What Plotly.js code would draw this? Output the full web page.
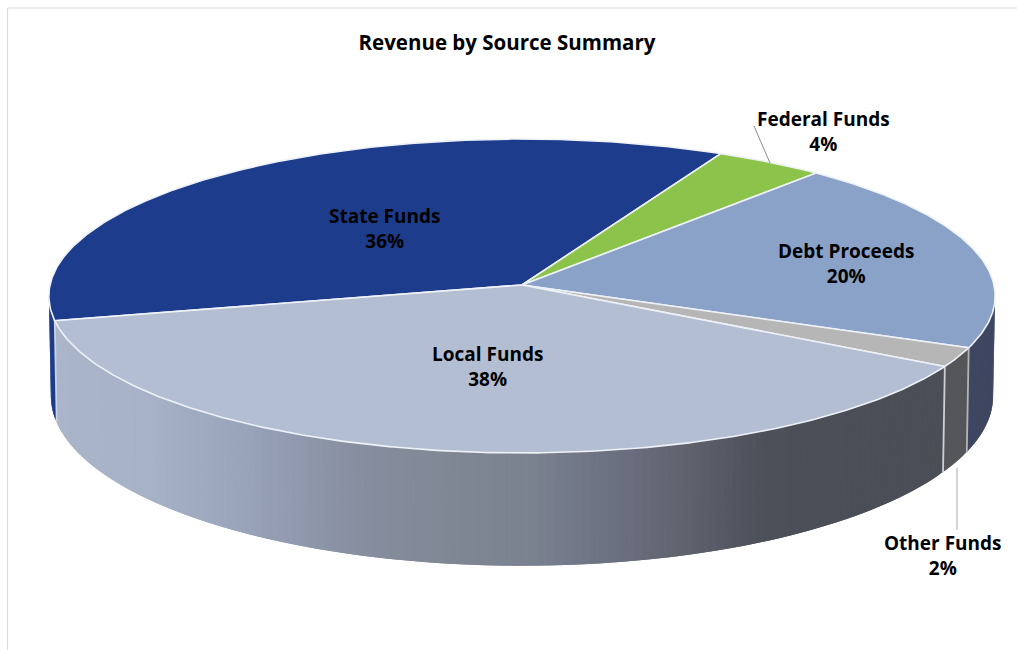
<!DOCTYPE html>
<html>
<head>
<meta charset="utf-8">
<script src="https://cdn.plot.ly/plotly-3.0.1.min.js"></script>
<style>html,body{margin:0;padding:0;background:#fff}#chart{width:1017px;height:650px}</style>
</head>
<body>
<div id="chart"></div>
<script>
// Revenue shares, percent, in clockwise drawing order
const categories = ['State Funds', 'Federal Funds', 'Debt Proceeds', 'Other Funds', 'Local Funds'];
const shares = [36, 4, 20, 2, 38];
const topColors = ['#1e3c8c', '#8cc34b', '#8aa2c8', '#b6b6b6', '#b4bed2'];
const wallColors = ['#1e3c88', '#6f9a3c', '#3e4660', '#55565a', null];

// Label anchors on the page
const labelX = [384, 823, 846, 943, 487];
const labelY = [228, 131, 263, 555, 366];

// Metallic sheen across the side wall of the largest slice: page x and colour
const sheenX = [50, 150, 250, 355, 450, 533, 610, 687, 763, 865, 950];
const sheenC = ['#abb5ca', '#a8b2c6', '#98a2b8', '#878ea0', '#808794', '#7a818f', '#6c7182', '#60636d', '#4c5059', '#4a4e57', '#4a4e57'];

const START_ANGLE = 257.0;   // where the first slice starts, clockwise from the back

// Perspective view of the disc: top face and bottom face
const topFace = {cx: 522, cy: 285, a: 472, b: 156.2, k: 0.07};
const baseFace = {cx: 522, cy: 384, a: 470, b: 169, k: 0.07};

function project(face, deg) {
  const r = deg * Math.PI / 180, u = Math.sin(r), v = Math.cos(r), s = 1 + face.k * v;
  return [face.cx + face.a * u / s, face.cy - face.b * v / s];
}

function hexToRgb(h) {
  return [1, 3, 5].map(i => parseInt(h.slice(i, i + 2), 16));
}

function sheenAt(x) {
  let i = 0;
  while (i < sheenX.length - 2 && x > sheenX[i + 1]) i++;
  const t = Math.min(1, Math.max(0, (x - sheenX[i]) / (sheenX[i + 1] - sheenX[i])));
  const p = hexToRgb(sheenC[i]), q = hexToRgb(sheenC[i + 1]);
  return 'rgb(' + p.map((c, j) => Math.round(c + (q[j] - c) * t)).join(',') + ')';
}

const traces = [];
const bounds = [];
let angle = START_ANGLE;
shares.forEach(s => { bounds.push([angle, angle + s * 3.6]); angle += s * 3.6; });

// Only the part of the rim between these angles faces the viewer
const WALL_FROM = 94, WALL_TO = 266;

// Side wall, built from narrow strips; each strip runs under the next one to hide seams
bounds.forEach((b, i) => {
  for (const shift of [0, 360, -360]) {
    const from = Math.max(b[0] + shift, WALL_FROM), to = Math.min(b[1] + shift, WALL_TO);
    for (let d = from; d < to; d += 1) {
      const e = Math.min(d + 2, to);
      const p1 = project(topFace, d), p2 = project(topFace, Math.min(d + 1, to));
      const xs = [], ys = [];
      for (const a of [d, (d + e) / 2, e]) { const p = project(topFace, a); xs.push(p[0]); ys.push(p[1]); }
      for (const a of [e, (d + e) / 2, d]) { const q = project(baseFace, a); xs.push(q[0]); ys.push(q[1]); }
      xs.push(xs[0]); ys.push(ys[0]);
      const col = wallColors[i] || sheenAt((p1[0] + p2[0]) / 2);
      traces.push({
        type: 'scatter', mode: 'lines', fill: 'toself', fillcolor: col,
        x: xs, y: ys, line: {width: 0}, hoverinfo: 'skip', showlegend: false
      });
    }
  }
});

// Light seams on the wall where slices meet
[[bounds[2][1], '#b4b4b4'], [bounds[3][1], '#cfcfcf'], [bounds[4][1], '#c9d2e2']].forEach(([d, col]) => {
  const p = project(topFace, d), q = project(baseFace, d);
  traces.push({type: 'scatter', mode: 'lines', x: [p[0], q[0]], y: [p[1], q[1]],
    line: {color: col, width: 1.8}, hoverinfo: 'skip', showlegend: false});
});

// Top face slices, drawn from the shares
bounds.forEach((b, i) => {
  const xs = [topFace.cx], ys = [topFace.cy];
  for (let d = b[0]; d < b[1]; d += 0.5) {
    const p = project(topFace, d); xs.push(p[0]); ys.push(p[1]);
  }
  const e = project(topFace, b[1]);
  xs.push(e[0], topFace.cx); ys.push(e[1], topFace.cy);
  traces.push({
    type: 'scatter', mode: 'lines', fill: 'toself', fillcolor: topColors[i], name: categories[i],
    x: xs, y: ys, line: {color: '#eef2f8', width: 1.6}, showlegend: false,
    hoverinfo: 'text', text: categories[i] + ': ' + shares[i] + '%'
  });
});

// Leader lines for the two labels outside the disc
traces.push({type: 'scatter', mode: 'lines', x: [754, 770], y: [126, 163],
  line: {color: '#8c8c8c', width: 1}, hoverinfo: 'skip', showlegend: false});
traces.push({type: 'scatter', mode: 'lines', x: [957, 957], y: [468, 530],
  line: {color: '#d2d2d2', width: 1.8}, hoverinfo: 'skip', showlegend: false});

const FONT = '"Open Sans", Lato, sans-serif';

const layout = {
  width: 1017, height: 650,
  margin: {l: 0, r: 0, t: 0, b: 0},
  paper_bgcolor: '#ffffff', plot_bgcolor: '#ffffff',
  showlegend: false,
  title: {
    text: '<b>Revenue by Source Summary</b>',
    font: {family: FONT, size: 20.5, color: '#000000'},
    x: 507 / 1017, xanchor: 'center', y: 1 - 43 / 650, yanchor: 'middle'
  },
  xaxis: {range: [0, 1017], visible: false, fixedrange: true},
  yaxis: {range: [650, 0], visible: false, fixedrange: true},
  shapes: [
    {type: 'line', xref: 'x', yref: 'y', x0: 7.5, x1: 7.5, y0: 8, y1: 650, line: {color: '#dcdcdc', width: 1.2}},
    {type: 'line', xref: 'x', yref: 'y', x0: 7.5, x1: 1017, y0: 8, y1: 8, line: {color: '#dcdcdc', width: 1.2}}
  ],
  annotations: categories.map((c, i) => ({
    xref: 'x', yref: 'y', x: labelX[i], y: labelY[i],
    text: '<b>' + c + '<br>' + shares[i] + '%</b>', showarrow: false,
    xanchor: 'center', yanchor: 'middle', align: 'center',
    font: {family: FONT, size: 19, color: '#000000'}
  }))
};

Plotly.newPlot('chart', traces, layout, {displayModeBar: false});
</script>
</body>
</html>
